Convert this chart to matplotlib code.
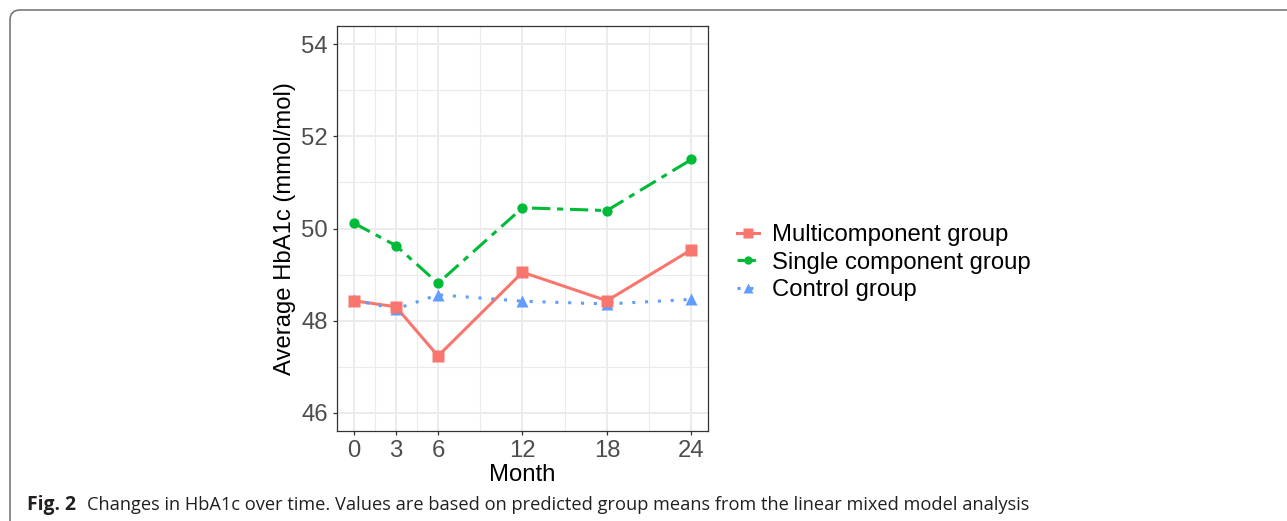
import matplotlib
matplotlib.use("Agg")
import matplotlib.pyplot as plt
from matplotlib.path import Path
from matplotlib.patches import PathPatch
from matplotlib.lines import Line2D

# ---- data ----
months = [0, 3, 6, 12, 18, 24]
multi = [48.43, 48.30, 47.23, 49.05, 48.43, 49.54]
single = [50.12, 49.63, 48.81, 50.45, 50.39, 51.50]
control = [48.45, 48.25, 48.56, 48.42, 48.36, 48.46]
labels = ["Multicomponent group", "Single component group", "Control group"]
yticks = [46, 48, 50, 52, 54]
caption_bold = "Fig. 2"
caption_text = ("Changes in HbA1c over time. Values are based on predicted group means "
                "from the linear mixed model analysis")

W, H = 1287, 521
DPI = 100
fig = plt.figure(figsize=(W / DPI, H / DPI), dpi=DPI)
plt.rcParams['font.family'] = ['Liberation Sans', 'DejaVu Sans']

def fx(px):
    return px / W

def fy(py):
    return 1 - py / H

# axes placement (pixels)
L, R, T, B = 336.7, 708.3, 26, 431
ax = fig.add_axes([fx(L), fy(B), fx(R) - fx(L), fy(T) - fy(B)])

red, green, blue = "#F8766D", "#00BA38", "#619CFF"
lw = 2.2

ax.plot(months, multi, color=red, lw=lw, ls='-', zorder=3, solid_capstyle='butt')
ax.plot(months, single, color=green, lw=lw, ls=(0, (6, 2.2, 2, 2.2)), zorder=3,
        dash_capstyle='butt')
ax.plot(months, control, color=blue, lw=lw, ls=(0, (1, 3.2)), zorder=3,
        dash_capstyle='butt')

ax.plot(months, single, ls='none', marker='o', ms=7.4, color=green, mec='none', zorder=4)
ax.plot(months, control, ls='none', marker='^', ms=9.0, color=blue, mec='none', zorder=5)
ax.plot(months, multi, ls='none', marker='s', ms=8.4, color=red, mec='none', zorder=6)

ax.set_xlim(-1.2, 25.2)
ax.set_ylim(45.6, 54.4)
ax.set_xticks(months)
ax.set_yticks(yticks)
ax.set_xticks([1.5, 4.5, 9, 15, 21], minor=True)
ax.set_yticks([47, 49, 51, 53], minor=True)

ax.grid(which='major', color='#EBEBEB', lw=1.4, zorder=0)
ax.grid(which='minor', color='#EBEBEB', lw=0.8, zorder=0)
ax.set_axisbelow(True)

for s in ax.spines.values():
    s.set_color('#333333')
    s.set_linewidth(0.9)

ax.tick_params(which='major', length=3.2, width=0.9, color='#333333',
               labelsize=17.2, labelcolor='#4D4D4D', pad=3.0)
ax.tick_params(which='minor', length=0)

ax.set_xlabel("Month", fontsize=17.2, color='black')
ax.set_ylabel("Average HbA1c (mmol/mol)", fontsize=17.2, color='black')
ax.xaxis.set_label_coords(0.5, -(475 - B) / (B - T), transform=ax.transAxes)
ax.xaxis.label.set_va('center')
ax.yaxis.set_label_coords((285 - L) / (R - L), 0.5, transform=ax.transAxes)
ax.yaxis.label.set_va('center')

# legend
handles = [
    Line2D([], [], color=red, lw=lw, ls='-', marker='s', ms=6.5, mec='none'),
    Line2D([], [], color=green, lw=lw, ls=(0, (6, 2.2, 2, 2.2)), marker='o', ms=6.0, mec='none'),
    Line2D([], [], color=blue, lw=lw, ls=(0, (1, 3.2)), marker='^', ms=7.0, mec='none'),
]
leg = fig.legend(handles, labels, loc='center left', bbox_to_anchor=(fx(737), fy(262.7)),
                 frameon=False, fontsize=17.2, handlelength=0.9, handletextpad=0.55,
                 labelspacing=0.23, borderpad=0, borderaxespad=0)

# rounded border (top and left edges)
r = 10
x0, y0 = 10, 10
verts = [(fx(x0), fy(H + 5)), (fx(x0), fy(y0 + r)), (fx(x0), fy(y0)), (fx(x0 + r), fy(y0)),
         (fx(W + 5), fy(y0))]
codes = [Path.MOVETO, Path.LINETO, Path.CURVE3, Path.CURVE3, Path.LINETO]
fig.add_artist(PathPatch(Path(verts, codes), transform=fig.transFigure, fill=False,
                         edgecolor='#6E6E6E', lw=1.1, clip_on=False))

# caption
cb = fig.text(fx(27), fy(505), caption_bold, fontsize=13, fontweight='bold',
              family=['Open Sans', 'DejaVu Sans'], color='#231F20', va='center', ha='left')
ct = fig.text(fx(87), fy(505), caption_text, fontsize=13,
              family=['Open Sans', 'DejaVu Sans'], color='#231F20', va='center', ha='left')
fig.canvas.draw()
w = ct.get_window_extent().width
ct.set_fontsize(13 * (1027 - 87) / w)
wb = cb.get_window_extent().width
cb.set_fontsize(13 * (76 - 27) / wb)

fig.savefig("out.png", dpi=DPI)
